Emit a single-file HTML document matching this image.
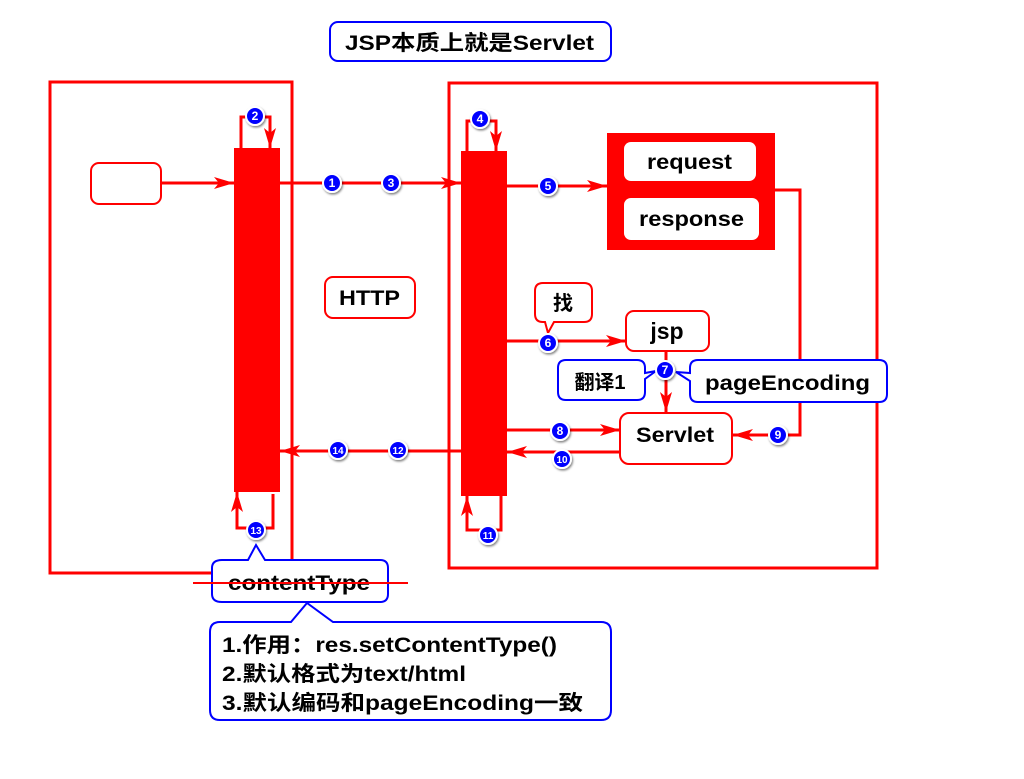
<!DOCTYPE html>
<html><head><meta charset="utf-8"><style>
html,body{margin:0;padding:0;background:#fff}
svg text{font-family:"Liberation Sans","Noto Sans CJK SC",sans-serif;font-weight:bold}
</style></head><body>
<svg width="1024" height="774" viewBox="0 0 1024 774" xmlns="http://www.w3.org/2000/svg">
<defs>
<marker id="a" viewBox="0 0 20 12" refX="20" refY="6" markerWidth="20" markerHeight="12" markerUnits="userSpaceOnUse" orient="auto">
<path d="M0,0 L20,6 L0,12 L5,6 Z" fill="#f00"/></marker>
<filter id="sh" x="-50%" y="-50%" width="200%" height="200%"><feDropShadow dx="1" dy="1.5" stdDeviation="1" flood-color="#000" flood-opacity="0.5"/></filter>
<g id="c"><circle r="9" fill="#00f" stroke="#fff" stroke-width="2" filter="url(#sh)"/></g>
</defs>
<rect x="330" y="22" width="281" height="39" rx="8" fill="#fff" stroke="#00f" stroke-width="2"/>
<text x="345" y="50" font-size="21" textLength="249" lengthAdjust="spacingAndGlyphs">JSP本质上就是Servlet</text>
<rect x="50" y="82" width="242" height="491" fill="none" stroke="#f00" stroke-width="3"/>
<rect x="449" y="83" width="428" height="485" fill="none" stroke="#f00" stroke-width="3"/>
<rect x="234" y="148" width="46" height="344" fill="#f00"/>
<rect x="461" y="151" width="46" height="345" fill="#f00"/>
<rect x="91" y="163" width="70" height="41" rx="8" fill="#fff" stroke="#f00" stroke-width="2"/>
<g stroke="#f00" stroke-width="3" fill="none">
<line x1="161" y1="183" x2="234" y2="183" marker-end="url(#a)"/>
<line x1="280" y1="183" x2="461" y2="183" marker-end="url(#a)"/>
<polyline points="241,148 241,117 270,117 270,148" marker-end="url(#a)"/>
<polyline points="467,151 467,121 496,121 496,151" marker-end="url(#a)"/>
<line x1="507" y1="186" x2="607" y2="186" marker-end="url(#a)"/>
<polyline points="775,190 800,190 800,435 733,435" marker-end="url(#a)"/>
<line x1="507" y1="341" x2="626" y2="341" marker-end="url(#a)"/>
<line x1="666" y1="351" x2="666" y2="412" marker-end="url(#a)"/>
<line x1="507" y1="430" x2="620" y2="430" marker-end="url(#a)"/>
<line x1="620" y1="452" x2="507" y2="452" marker-end="url(#a)"/>
<line x1="461" y1="451" x2="280" y2="451" marker-end="url(#a)"/>
<polyline points="501,496 501,530 467,530 467,496" marker-end="url(#a)"/>
<polyline points="273,494 273,528 237,528 237,492" marker-end="url(#a)"/>
</g>
<rect x="607" y="133" width="168" height="117" fill="#f00"/>
<rect x="624" y="142" width="132" height="39" rx="7" fill="#fff"/>
<rect x="624" y="198" width="135" height="42" rx="7" fill="#fff"/>
<text x="647" y="169" font-size="21" textLength="85" lengthAdjust="spacingAndGlyphs">request</text>
<text x="639" y="226" font-size="21" textLength="105" lengthAdjust="spacingAndGlyphs">response</text>
<rect x="325" y="277" width="90" height="41" rx="8" fill="#fff" stroke="#f00" stroke-width="2"/>
<text x="339" y="305" font-size="21" textLength="61" lengthAdjust="spacingAndGlyphs">HTTP</text>
<path d="M543,283 H584 Q592,283 592,291 V314 Q592,322 584,322 H554 L548,333 L545,322 H543 Q535,322 535,314 V291 Q535,283 543,283 Z" fill="#fff" stroke="#f00" stroke-width="2"/>
<text x="563" y="310" font-size="20" text-anchor="middle" font-weight="normal">找</text>
<rect x="626" y="311" width="83" height="40" rx="8" fill="#fff" stroke="#f00" stroke-width="2"/>
<text x="667" y="339" font-size="23" text-anchor="middle">jsp</text>
<rect x="620" y="413" width="112" height="51" rx="9" fill="#fff" stroke="#f00" stroke-width="2"/>
<text x="636" y="442" font-size="21" textLength="78" lengthAdjust="spacingAndGlyphs">Servlet</text>
<path d="M566,360 H637 Q645,360 645,368 V373 L656,371 L645,379 V392 Q645,400 637,400 H566 Q558,400 558,392 V368 Q558,360 566,360 Z" fill="#fff" stroke="#00f" stroke-width="2"/>
<text x="600" y="389" font-size="20" text-anchor="middle" font-weight="normal">翻译1</text>
<path d="M698,360 H879 Q887,360 887,368 V394 Q887,402 879,402 H698 Q690,402 690,394 V381 L676,372 L690,373 V368 Q690,360 698,360 Z" fill="#fff" stroke="#00f" stroke-width="2"/>
<text x="705" y="390" font-size="21" textLength="165" lengthAdjust="spacingAndGlyphs">pageEncoding</text>
<path d="M222,560 H248 L256,545 L265,560 H380 Q388,560 388,568 V594 Q388,602 380,602 H222 Q212,602 212,594 V568 Q212,560 222,560 Z" fill="#fff" stroke="#00f" stroke-width="2"/>
<text x="228" y="590" font-size="21" textLength="142" lengthAdjust="spacingAndGlyphs">contentType</text>
<line x1="193" y1="583" x2="408" y2="583" stroke="#f00" stroke-width="2"/>
<path d="M220,622 H291 L307,603 L333,622 H601 Q611,622 611,632 V710 Q611,720 601,720 H220 Q210,720 210,710 V632 Q210,622 220,622 Z" fill="#fff" stroke="#00f" stroke-width="2"/>
<text x="222" y="652" font-size="21" textLength="335" lengthAdjust="spacingAndGlyphs">1.作用：res.setContentType()</text>
<text x="222" y="681" font-size="21" textLength="244" lengthAdjust="spacingAndGlyphs">2.默认格式为text/html</text>
<text x="222" y="710" font-size="21" textLength="361" lengthAdjust="spacingAndGlyphs">3.默认编码和pageEncoding一致</text>
<g font-size="12" fill="#fff" text-anchor="middle">
<use href="#c" x="332" y="183"/><text x="332" y="187" fill="#fff">1</text>
<use href="#c" x="391" y="183"/><text x="391" y="187" fill="#fff">3</text>
<use href="#c" x="255" y="116"/><text x="255" y="120" fill="#fff">2</text>
<use href="#c" x="480" y="119"/><text x="480" y="123" fill="#fff">4</text>
<use href="#c" x="548" y="186"/><text x="548" y="190" fill="#fff">5</text>
<use href="#c" x="548" y="343"/><text x="548" y="347" fill="#fff">6</text>
<use href="#c" x="665" y="370"/><text x="665" y="374" fill="#fff">7</text>
<use href="#c" x="560" y="431"/><text x="560" y="435" fill="#fff">8</text>
<use href="#c" x="778" y="435"/><text x="778" y="439" fill="#fff">9</text>
<use href="#c" x="562" y="459"/><text x="562" y="463" fill="#fff" font-size="10">10</text>
<use href="#c" x="488" y="535"/><text x="488" y="539" fill="#fff" font-size="10">11</text>
<use href="#c" x="398" y="450"/><text x="398" y="454" fill="#fff" font-size="10">12</text>
<use href="#c" x="256" y="530"/><text x="256" y="534" fill="#fff" font-size="10">13</text>
<use href="#c" x="338" y="450"/><text x="338" y="454" fill="#fff" font-size="10">14</text>
</g>
</svg>
</body></html>
